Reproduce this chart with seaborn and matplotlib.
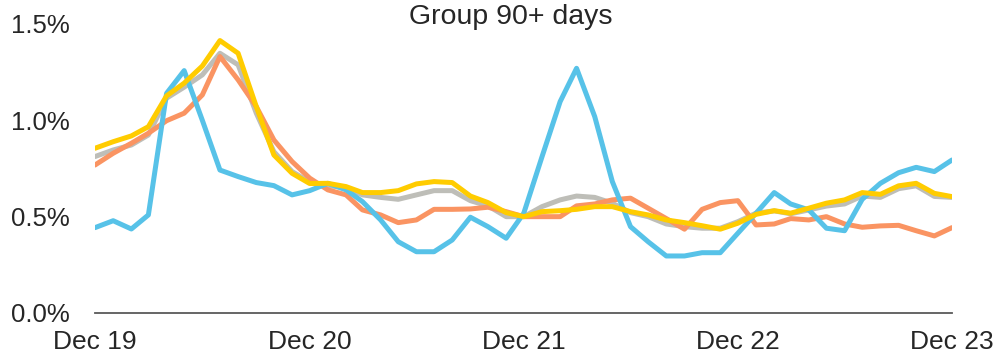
import pandas as pd
import matplotlib
matplotlib.use("Agg")
import matplotlib.pyplot as plt
import matplotlib.dates as mdates
import seaborn as sns

# Monthly series, Dec 2019 - Dec 2023 (values in %)
months = pd.date_range("2019-12-01", "2023-12-01", freq="MS")

blue = [0.443, 0.479, 0.436, 0.509, 1.14, 1.258, 1.0, 0.742, 0.708, 0.677,
        0.661, 0.613, 0.635, 0.673, 0.639, 0.578, 0.483, 0.37, 0.318, 0.318,
        0.379, 0.497, 0.448, 0.388, 0.518, 0.81, 1.097, 1.27, 1.019, 0.682,
        0.448, 0.37, 0.296, 0.296, 0.313, 0.313, 0.414, 0.518, 0.625, 0.566,
        0.535, 0.44, 0.427, 0.59, 0.673, 0.728, 0.756, 0.734, 0.794]
orange = [0.768, 0.829, 0.881, 0.933, 0.998, 1.037, 1.132, 1.331, 1.21, 1.071,
          0.898, 0.786, 0.70, 0.639, 0.613, 0.535, 0.509, 0.469, 0.483, 0.538,
          0.538, 0.54, 0.549, 0.526, 0.5, 0.5, 0.5, 0.556, 0.566, 0.587,
          0.596, 0.544, 0.49, 0.435, 0.538, 0.573, 0.583, 0.457, 0.462, 0.49,
          0.483, 0.5, 0.462, 0.445, 0.452, 0.455, 0.427, 0.4, 0.443]
gray = [0.812, 0.846, 0.872, 0.924, 1.115, 1.172, 1.236, 1.348, 1.288, 1.037,
        0.837, 0.734, 0.68, 0.66, 0.652, 0.613, 0.6, 0.59, 0.613, 0.635,
        0.635, 0.583, 0.556, 0.5, 0.5, 0.552, 0.587, 0.607, 0.6, 0.57,
        0.521, 0.5, 0.462, 0.448, 0.44, 0.44, 0.474, 0.518, 0.53, 0.515,
        0.535, 0.555, 0.566, 0.607, 0.6, 0.645, 0.66, 0.605, 0.6]
yellow = [0.855, 0.889, 0.919, 0.967, 1.127, 1.193, 1.282, 1.414, 1.348, 1.071,
          0.82, 0.725, 0.672, 0.673, 0.656, 0.625, 0.625, 0.635, 0.67, 0.682,
          0.677, 0.607, 0.573, 0.521, 0.5, 0.526, 0.531, 0.538, 0.552, 0.552,
          0.526, 0.509, 0.483, 0.469, 0.453, 0.435, 0.466, 0.512, 0.531, 0.518,
          0.544, 0.57, 0.587, 0.625, 0.616, 0.66, 0.673, 0.621, 0.604]

series_names = ["Gray", "Orange", "Blue", "Yellow"]
colors = {"Gray": "#BEBEB8", "Orange": "#FA9462", "Blue": "#57C2E8", "Yellow": "#FFCC00"}

df = pd.concat([
    pd.DataFrame({"month": months, "value": gray, "series": "Gray"}),
    pd.DataFrame({"month": months, "value": orange, "series": "Orange"}),
    pd.DataFrame({"month": months, "value": blue, "series": "Blue"}),
    pd.DataFrame({"month": months, "value": yellow, "series": "Yellow"}),
])

sns.set_style("white")
plt.rcParams["font.family"] = ["Liberation Sans", "DejaVu Sans"]

fig = plt.figure(figsize=(9.99, 3.58), dpi=100)
ax = fig.add_axes([0.0951, 0.1257, 0.8578, 0.8073])

sns.lineplot(data=df, x="month", y="value", hue="series", hue_order=series_names,
             palette=colors, linewidth=3.6, legend=False, ax=ax)

ax.set_xlim(months[0], months[-1])
ax.set_ylim(0, 1.5)
ax.set_yticks([0, 0.5, 1.0, 1.5])
ax.set_yticklabels(["0.0%", "0.5%", "1.0%", "1.5%"])
ax.set_xticks(months[::12])
ax.xaxis.set_major_formatter(mdates.DateFormatter("Dec %y"))
ax.set_xlabel("")
ax.set_ylabel("")
ax.tick_params(axis="y", length=0, pad=18, labelsize=18.5)
ax.tick_params(axis="x", length=0, pad=12, labelsize=19)

for side in ["top", "right", "left"]:
    ax.spines[side].set_visible(False)
ax.spines["bottom"].set_color("#595959")
ax.spines["bottom"].set_linewidth(1.3)

fig.text(0.511, 0.99, "Group 90+ days", ha="center", va="top", fontsize=20.5)

fig.savefig("out.png", dpi=100)
